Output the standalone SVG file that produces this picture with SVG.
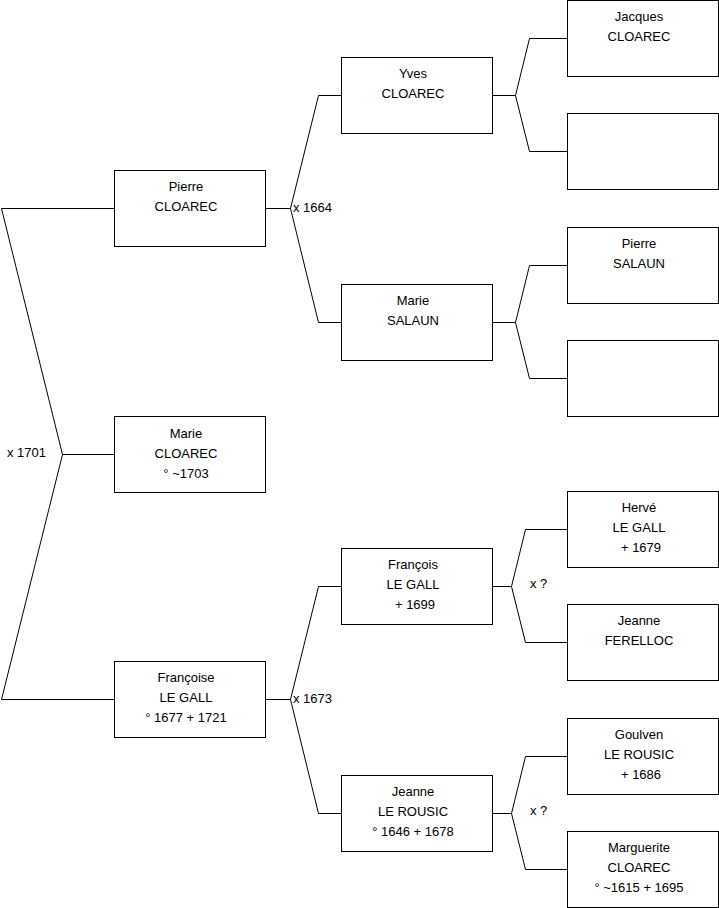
<svg xmlns="http://www.w3.org/2000/svg" width="719" height="908" viewBox="0 0 719 908">
<style>
.box{fill:#fff;stroke:#000;stroke-width:1}
.ln{fill:none;stroke:#000;stroke-width:1}
text{font-family:"Liberation Sans",Arial,sans-serif;font-size:13px;fill:#000}
.c{text-anchor:middle}
</style>
<rect width="719" height="908" fill="#fff"/>
<g id="connectors">
<path class="ln" d="M114.5,208.5H1.5L62.5,454.5L1.5,699.5H114.5M62.5,454.5H114.5"/>
<path class="ln" d="M265.5,208.5H290.5L318.5,95.5H341.5M290.5,208.5L318.5,322.5H341.5"/>
<path class="ln" d="M265.5,699.5H290.5L318.5,586.5H341.5M290.5,699.5L318.5,813.5H341.5"/>
<path class="ln" d="M492.5,95.5H515.5L529.5,38.5H567.5M515.5,95.5L529.5,151.5H567.5"/>
<path class="ln" d="M492.5,322.5H515.5L529.5,265.5H567.5M515.5,322.5L529.5,378.5H567.5"/>
<path class="ln" d="M492.5,586.5H511.5L525.5,529.5H567.5M511.5,586.5L525.5,642.5H567.5"/>
<path class="ln" d="M492.5,813.5H511.5L525.5,756.5H567.5M511.5,813.5L525.5,869.5H567.5"/>
<text x="7" y="457">x 1701</text>
<text x="293" y="212">x 1664</text>
<text x="293" y="703">x 1673</text>
<text x="530" y="588">x ?</text>
<text x="530" y="815">x ?</text>
</g>
<g id="n-pierre"><rect class="box" x="114.5" y="170.5" width="151" height="76"/><text class="c" x="186" y="191">Pierre</text><text class="c" x="186" y="211">CLOAREC</text></g>
<g id="n-marie"><rect class="box" x="114.5" y="416.5" width="151" height="76"/><text class="c" x="186" y="438">Marie</text><text class="c" x="186" y="458">CLOAREC</text><text class="c" x="186" y="478">° ~1703</text></g>
<g id="n-francoise"><rect class="box" x="114.5" y="661.5" width="151" height="76"/><text class="c" x="186" y="682">Françoise</text><text class="c" x="186" y="702">LE GALL</text><text class="c" x="186" y="722">° 1677 + 1721</text></g>
<g id="n-yves"><rect class="box" x="341.5" y="57.5" width="151" height="76"/><text class="c" x="413" y="78">Yves</text><text class="c" x="413" y="98">CLOAREC</text></g>
<g id="n-marie-salaun"><rect class="box" x="341.5" y="284.5" width="151" height="76"/><text class="c" x="413" y="305">Marie</text><text class="c" x="413" y="325">SALAUN</text></g>
<g id="n-francois"><rect class="box" x="341.5" y="548.5" width="151" height="76"/><text class="c" x="413" y="569">François</text><text class="c" x="413" y="589">LE GALL</text><text class="c" x="415" y="609">+ 1699</text></g>
<g id="n-jeanne-rousic"><rect class="box" x="341.5" y="775.5" width="151" height="76"/><text class="c" x="413" y="796">Jeanne</text><text class="c" x="413" y="816">LE ROUSIC</text><text class="c" x="413" y="836">° 1646 + 1678</text></g>
<g id="n-jacques"><rect class="box" x="567.5" y="0.5" width="151" height="76"/><text class="c" x="639" y="21">Jacques</text><text class="c" x="639" y="41">CLOAREC</text></g>
<g id="n-empty1"><rect class="box" x="567.5" y="113.5" width="151" height="76"/></g>
<g id="n-pierre-salaun"><rect class="box" x="567.5" y="227.5" width="151" height="76"/><text class="c" x="639" y="248">Pierre</text><text class="c" x="639" y="268">SALAUN</text></g>
<g id="n-empty2"><rect class="box" x="567.5" y="340.5" width="151" height="76"/></g>
<g id="n-herve"><rect class="box" x="567.5" y="491.5" width="151" height="76"/><text class="c" x="639" y="512">Hervé</text><text class="c" x="639" y="532">LE GALL</text><text class="c" x="641" y="552">+ 1679</text></g>
<g id="n-jeanne-ferelloc"><rect class="box" x="567.5" y="604.5" width="151" height="76"/><text class="c" x="639" y="625">Jeanne</text><text class="c" x="639" y="645">FERELLOC</text></g>
<g id="n-goulven"><rect class="box" x="567.5" y="718.5" width="151" height="76"/><text class="c" x="639" y="739">Goulven</text><text class="c" x="639" y="759">LE ROUSIC</text><text class="c" x="641" y="779">+ 1686</text></g>
<g id="n-marguerite"><rect class="box" x="567.5" y="831.5" width="151" height="76"/><text class="c" x="639" y="852">Marguerite</text><text class="c" x="639" y="872">CLOAREC</text><text class="c" x="639" y="892">° ~1615 + 1695</text></g>
</svg>
